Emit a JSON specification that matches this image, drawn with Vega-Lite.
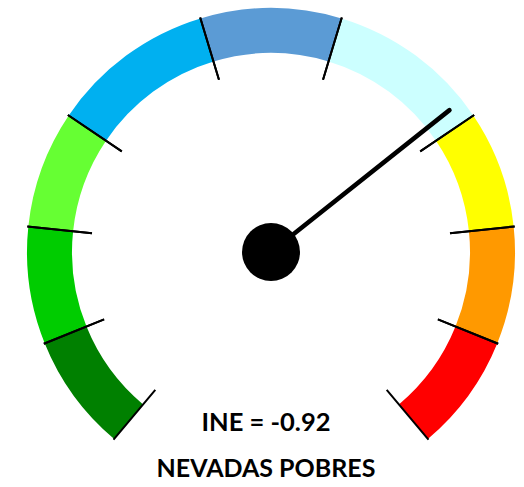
{
  "$schema": "https://vega.github.io/schema/vega-lite/v6.json",
  "width": 506,
  "height": 470,
  "autosize": "none",
  "padding": {"left": 18, "top": 17, "right": 0, "bottom": 0},
  "background": "white",
  "view": {"stroke": null},
  "datasets": {
    "bandas": [
      {"clase": "Extremadamente ricas", "desde": 2.0, "hasta": 2.5},
      {"clase": "Muy ricas", "desde": 1.5, "hasta": 2.0},
      {"clase": "Ricas", "desde": 1.0, "hasta": 1.5},
      {"clase": "Algo ricas", "desde": 0.3, "hasta": 1.0},
      {"clase": "Normales", "desde": -0.3, "hasta": 0.3},
      {"clase": "Pobres", "desde": -1.0, "hasta": -0.3},
      {"clase": "Muy pobres", "desde": -1.5, "hasta": -1.0},
      {"clase": "Extremadamente pobres", "desde": -2.0, "hasta": -1.5},
      {"clase": "Excepcionalmente pobres", "desde": -2.5, "hasta": -2.0}
    ],
    "indice": [
      {"indice": "INE", "valor": -0.92, "etiqueta": "INE = -0.92", "clase": "NEVADAS POBRES"}
    ]
  },
  "layer": [
    {
      "data": {"name": "bandas"},
      "mark": {"type": "arc", "outerRadius": 244, "innerRadius": 199},
      "encoding": {
        "theta": {"field": "desde", "type": "quantitative", "stack": null,
                  "scale": {"domain": [-2.5, 2.5], "range": [2.4435, -2.4435]}},
        "theta2": {"field": "hasta"},
        "color": {"field": "clase", "type": "nominal", "legend": null,
                  "scale": {"domain": ["Extremadamente ricas", "Muy ricas", "Ricas", "Algo ricas", "Normales", "Pobres", "Muy pobres", "Extremadamente pobres", "Excepcionalmente pobres"],
                            "range": ["#008000", "#00cc00", "#66ff33", "#00b0f0", "#5b9bd5", "#ccffff", "#ffff00", "#ff9900", "#ff0000"]}}
      }
    },
    {
      "data": {"name": "bandas"},
      "mark": {"type": "arc", "outerRadius": 245, "innerRadius": 180, "fill": "black", "stroke": "black", "strokeWidth": 2},
      "encoding": {
        "theta": {"field": "desde", "type": "quantitative", "stack": null,
                  "scale": {"domain": [-2.5, 2.5], "range": [2.4435, -2.4435]}},
        "theta2": {"field": "desde"}
      }
    },
    {
      "data": {"name": "bandas"},
      "mark": {"type": "arc", "outerRadius": 245, "innerRadius": 180, "fill": "black", "stroke": "black", "strokeWidth": 2},
      "encoding": {
        "theta": {"field": "hasta", "type": "quantitative", "stack": null,
                  "scale": {"domain": [-2.5, 2.5], "range": [2.4435, -2.4435]}},
        "theta2": {"field": "hasta"}
      }
    },
    {
      "data": {"name": "indice"},
      "mark": {"type": "arc", "outerRadius": 228, "innerRadius": 0, "fill": "black", "stroke": "black", "strokeWidth": 4.5, "strokeJoin": "round"},
      "encoding": {
        "theta": {"field": "valor", "type": "quantitative", "stack": null,
                  "scale": {"domain": [-2.5, 2.5], "range": [2.4435, -2.4435]}},
        "theta2": {"field": "valor"}
      }
    },
    {
      "data": {"name": "indice"},
      "mark": {"type": "arc", "outerRadius": 29, "innerRadius": 0, "theta": 0, "theta2": 6.2832, "fill": "black"},
      "encoding": {}
    },
    {
      "data": {"name": "indice"},
      "mark": {"type": "text", "radius": 179, "theta": 3.14159, "dx": -5, "baseline": "alphabetic", "align": "center",
               "font": "Lato", "fontWeight": "bold", "fontSize": 25.5, "color": "black"},
      "encoding": {"text": {"field": "etiqueta"}}
    },
    {
      "data": {"name": "indice"},
      "mark": {"type": "text", "radius": 225, "theta": 3.14159, "dx": -5, "baseline": "alphabetic", "align": "center",
               "font": "Lato", "fontWeight": "bold", "fontSize": 25, "color": "black"},
      "encoding": {"text": {"field": "clase"}}
    }
  ]
}
